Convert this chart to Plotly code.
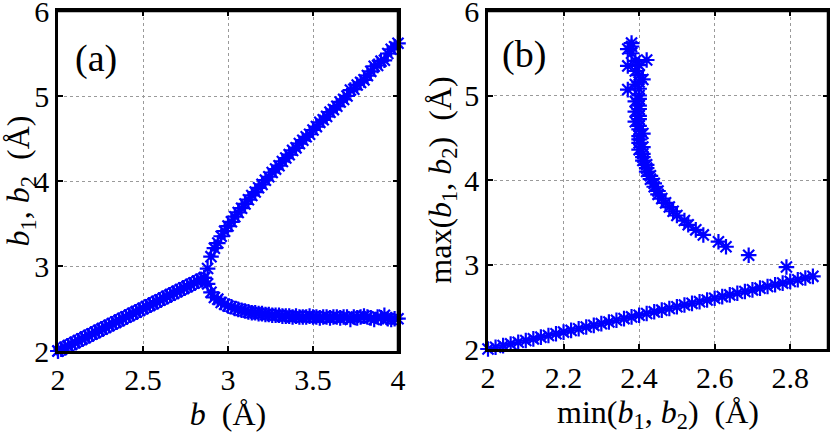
import plotly.graph_objects as go

# b values where b1 = b2 (symmetric branch)
b_sym = [2.00, 2.02, 2.04, 2.06, 2.08, 2.10, 2.12, 2.14, 2.16, 2.18,
         2.20, 2.22, 2.24, 2.26, 2.28, 2.30, 2.32, 2.34, 2.36, 2.38,
         2.40, 2.42, 2.44, 2.46, 2.48, 2.50, 2.52, 2.54, 2.56, 2.58,
         2.60, 2.62, 2.64, 2.66, 2.68, 2.70, 2.72, 2.74, 2.76, 2.78,
         2.80, 2.82, 2.84, 2.86]

# b values after the split
b_split = [2.88, 2.90, 2.92, 2.94, 2.96, 2.98, 3.00, 3.02, 3.04, 3.06,
           3.08, 3.10, 3.12, 3.14, 3.16, 3.18, 3.20, 3.22, 3.24, 3.26,
           3.28, 3.30, 3.32, 3.34, 3.36, 3.38, 3.40, 3.42, 3.44, 3.46,
           3.48, 3.50, 3.52, 3.54, 3.56, 3.58, 3.60, 3.62, 3.64, 3.66,
           3.68, 3.70, 3.72, 3.74, 3.76, 3.78, 3.80, 3.82, 3.84, 3.86,
           3.88, 3.90, 3.92, 3.94, 3.96, 3.98, 4.00]

# lower branch
b_low = [2.79, 2.69, 2.63, 2.61, 2.57, 2.55, 2.53, 2.52, 2.50, 2.49,
         2.48, 2.47, 2.46, 2.45, 2.45, 2.44, 2.44, 2.43, 2.43, 2.42,
         2.42, 2.42, 2.41, 2.41, 2.41, 2.40, 2.41, 2.40, 2.40, 2.40,
         2.41, 2.40, 2.40, 2.39, 2.40, 2.40, 2.39, 2.40, 2.40, 2.39,
         2.40, 2.40, 2.37, 2.40, 2.39, 2.40, 2.41, 2.40, 2.39, 2.37,
         2.40, 2.39, 2.42, 2.38, 2.37, 2.38, 2.38]

# upper branch
b_up = [2.97, 3.11, 3.21, 3.27, 3.35, 3.41, 3.47, 3.52, 3.58, 3.63,
        3.68, 3.73, 3.78, 3.83, 3.87, 3.92, 3.96, 4.01, 4.05, 4.10,
        4.14, 4.18, 4.23, 4.27, 4.31, 4.36, 4.39, 4.44, 4.48, 4.52,
        4.55, 4.60, 4.64, 4.69, 4.72, 4.76, 4.81, 4.84, 4.88, 4.93,
        4.96, 5.00, 5.07, 5.08, 5.13, 5.16, 5.19, 5.24, 5.29, 5.35,
        5.36, 5.41, 5.42, 5.50, 5.55, 5.58, 5.62]

b = b_sym + b_split
b1 = b_sym + b_up
b2 = b_sym + b_low
bmin = [min(p, q) for p, q in zip(b1, b2)]
bmax = [max(p, q) for p, q in zip(b1, b2)]

xticks_a = [2, 2.5, 3, 3.5, 4]
xticks_b = [2, 2.2, 2.4, 2.6, 2.8]
yticks = [2, 3, 4, 5, 6]

FONT = "Liberation Serif"
BLUE = "#0000FF"
marker = dict(symbol="asterisk-open", size=13, color=BLUE,
              line=dict(color=BLUE, width=2.2))

fig = go.Figure()
fig.add_trace(go.Scatter(x=b, y=b1, mode="markers", marker=marker,
                         xaxis="x", yaxis="y", showlegend=False,
                         cliponaxis=False))
fig.add_trace(go.Scatter(x=b, y=b2, mode="markers", marker=marker,
                         xaxis="x", yaxis="y", showlegend=False,
                         cliponaxis=False))
fig.add_trace(go.Scatter(x=bmin, y=bmax, mode="markers", marker=marker,
                         xaxis="x2", yaxis="y2", showlegend=False,
                         cliponaxis=False))

axis_common = dict(showline=True, linecolor="black", linewidth=2.5,
                   mirror="ticks", ticks="inside", ticklen=5, tickwidth=1.5,
                   tickcolor="black", showgrid=True, gridcolor="#9a9a9a",
                   griddash="dot", gridwidth=1, zeroline=False,
                   tickfont=dict(family=FONT, size=30, color="black"),
                   ticklabeloverflow="allow", automargin=False)

W, H = 830, 435
SP = "&nbsp;&nbsp;"

# panel boxes in pixels (left, right, top, bottom)
box_a = (58, 398, 11, 351)
box_b = (488, 828, 11, 349)


def border(box):
    l, r, t, btm = box
    out = []
    for x0, y0, x1, y1 in [(l, t, r, t), (r, t, r, btm)]:
        out.append(dict(type="line", xref="paper", yref="paper",
                        x0=x0 / W, x1=x1 / W, y0=1 - y0 / H, y1=1 - y1 / H,
                        line=dict(color="black", width=2.5), layer="above"))
    return out


fig.update_layout(
    width=W, height=H,
    margin=dict(l=0, r=0, t=0, b=0),
    paper_bgcolor="white", plot_bgcolor="white",
    font=dict(family=FONT, color="black"),
    xaxis=dict(axis_common, domain=[box_a[0] / W, box_a[1] / W], range=[2, 4],
               tickvals=xticks_a, ticktext=["2", "2.5", "3", "3.5", "4"],
               title=dict(text="<i>b</i>" + SP + "(Å)", standoff=4,
                          font=dict(family=FONT, size=32))),
    yaxis=dict(axis_common, domain=[1 - box_a[3] / H, 1 - box_a[2] / H],
               range=[2, 6],
               tickvals=yticks, ticktext=[str(v) for v in yticks],
               title=dict(text="<i>b</i><sub>1</sub>, <i>b</i><sub>2</sub>" + SP + "(Å)",
                          standoff=4, font=dict(family=FONT, size=32))),
    xaxis2=dict(axis_common, domain=[box_b[0] / W, box_b[1] / W],
                range=[2, 2.9], anchor="y2",
                tickvals=xticks_b, ticktext=["2", "2.2", "2.4", "2.6", "2.8"],
                title=dict(text="min(<i>b</i><sub>1</sub>, <i>b</i><sub>2</sub>)" + SP + "(Å)",
                           standoff=4, font=dict(family=FONT, size=32))),
    yaxis2=dict(axis_common, domain=[1 - box_b[3] / H, 1 - box_b[2] / H],
                range=[2, 6], anchor="x2",
                tickvals=yticks, ticktext=[str(v) for v in yticks],
                title=dict(text="max(<i>b</i><sub>1</sub>, <i>b</i><sub>2</sub>)" + SP + "(Å)",
                           standoff=4, font=dict(family=FONT, size=32))),
    annotations=[
        dict(text="(a)", x=0.045, y=0.93, xref="x domain", yref="y domain",
             xanchor="left", yanchor="top", showarrow=False,
             font=dict(family=FONT, size=38, color="black")),
        dict(text="(b)", x=0.035, y=0.94, xref="x2 domain", yref="y2 domain",
             xanchor="left", yanchor="top", showarrow=False,
             font=dict(family=FONT, size=38, color="black")),
    ],
    shapes=border(box_a) + border(box_b),
)

fig.write_html(
    "out.html",
    config={"displayModeBar": False},
    post_script="document.body.style.margin='0';"
                "document.body.style.overflow='hidden';",
)
